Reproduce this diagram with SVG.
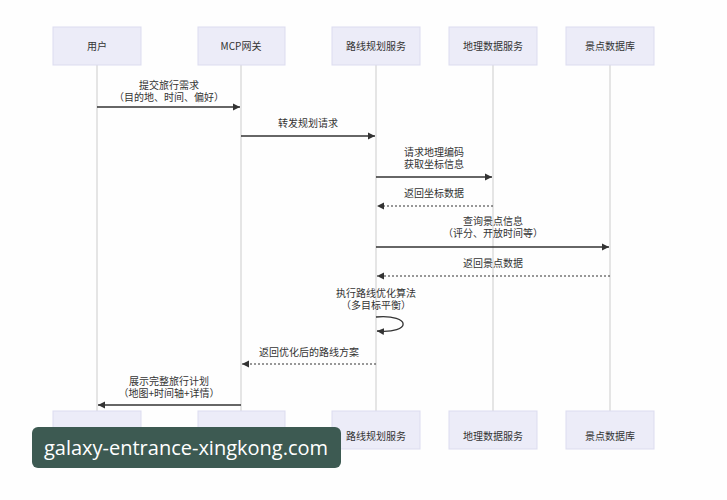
<svg xmlns="http://www.w3.org/2000/svg" width="727" height="500" viewBox="0 0 727 500">
<style>
.box{fill:#ececf8;stroke:#dcdcef;stroke-width:1}
.t{font-family:"Noto Sans CJK SC","Noto Sans",sans-serif;font-size:10px;fill:#333;text-anchor:middle}
.life{stroke:#ccc;stroke-width:1}
.m{stroke:#333;stroke-width:1.3;fill:none;marker-end:url(#a)}
.d{stroke:#333;stroke-width:1.1;fill:none;stroke-dasharray:2,2;marker-end:url(#a)}
</style>
<defs><marker id="a" markerWidth="8" markerHeight="8" refX="7" refY="4" orient="auto" markerUnits="userSpaceOnUse"><path d="M0,0.5 L7,4 L0,7.5z" fill="#333"/></marker></defs>
<rect width="727" height="500" fill="#fefefe"/>
<g id="lifelines">
<line class="life" x1="97" y1="65" x2="97" y2="411"/>
<line class="life" x1="241" y1="65" x2="241" y2="411"/>
<line class="life" x1="376" y1="65" x2="376" y2="411"/>
<line class="life" x1="493" y1="65" x2="493" y2="411"/>
<line class="life" x1="610" y1="65" x2="610" y2="411"/>
</g>
<g id="n-user"><rect class="box" x="53" y="27" width="88" height="38"/><text class="t" x="97" y="50">用户</text><rect class="box" x="53" y="411" width="88" height="38"/><text class="t" x="97" y="440">用户</text></g>
<g id="n-mcp"><rect class="box" x="198" y="27" width="87" height="38"/><text class="t" x="241" y="50">MCP网关</text><rect class="box" x="198" y="411" width="87" height="38"/><text class="t" x="241" y="440">MCP网关</text></g>
<g id="n-route"><rect class="box" x="332" y="27" width="88" height="38"/><text class="t" x="376" y="50">路线规划服务</text><rect class="box" x="332" y="411" width="88" height="38"/><text class="t" x="376" y="440">路线规划服务</text></g>
<g id="n-geo"><rect class="box" x="449" y="27" width="88" height="38"/><text class="t" x="493" y="50">地理数据服务</text><rect class="box" x="449" y="411" width="88" height="38"/><text class="t" x="493" y="440">地理数据服务</text></g>
<g id="n-poi"><rect class="box" x="566" y="27" width="88" height="38"/><text class="t" x="610" y="50">景点数据库</text><rect class="box" x="566" y="411" width="88" height="38"/><text class="t" x="610" y="440">景点数据库</text></g>
<g id="connectors">
<line class="m" x1="97" y1="107" x2="240" y2="107"/>
<text class="t" x="169" y="89">提交旅行需求</text><text class="t" x="169" y="101">（目的地、时间、偏好）</text>
<line class="m" x1="241" y1="136" x2="375" y2="136"/>
<text class="t" x="308" y="127">转发规划请求</text>
<line class="m" x1="376" y1="177" x2="492" y2="177"/>
<text class="t" x="434" y="156">请求地理编码</text><text class="t" x="434" y="168">获取坐标信息</text>
<line class="d" x1="493" y1="206" x2="377" y2="206"/>
<text class="t" x="434" y="197">返回坐标数据</text>
<line class="m" x1="376" y1="247" x2="609" y2="247"/>
<text class="t" x="493" y="225">查询景点信息</text><text class="t" x="493" y="237">（评分、开放时间等）</text>
<line class="d" x1="610" y1="276" x2="377" y2="276"/>
<text class="t" x="493" y="267">返回景点数据</text>
<path class="m" d="M376,317 C412,314 412,334 377,331"/>
<text class="t" x="376" y="297">执行路线优化算法</text><text class="t" x="376" y="309">（多目标平衡）</text>
<line class="d" x1="376" y1="364" x2="242" y2="364"/>
<text class="t" x="309" y="356">返回优化后的路线方案</text>
<line class="m" x1="241" y1="405" x2="98" y2="405"/>
<text class="t" x="169" y="385">展示完整旅行计划</text><text class="t" x="169" y="397">（地图+时间轴+详情）</text>
</g>
<g id="watermark"><rect x="32" y="427" width="309" height="41" rx="6" fill="#3d5a52"/><text x="186" y="455" font-family="Open Sans,sans-serif" font-size="20" fill="#fff" text-anchor="middle">galaxy-entrance-xingkong.com</text></g>
</svg>
